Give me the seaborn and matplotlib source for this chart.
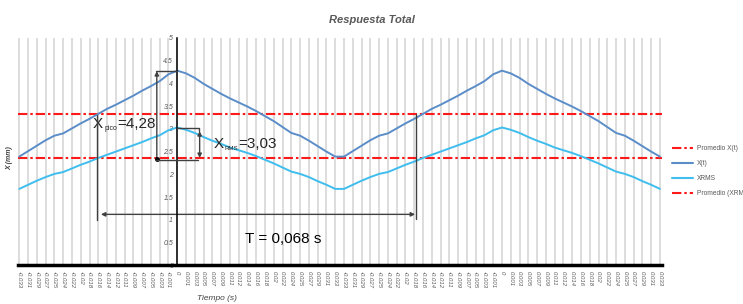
import numpy as np
import pandas as pd
import matplotlib
matplotlib.use('Agg')
import matplotlib.pyplot as plt
import seaborn as sns
from matplotlib.lines import Line2D

# etiquetas del eje de tiempo (dos periodos de la respuesta)
tiempo = ['-0.033', '-0.031', '-0.029', '-0.027', '-0.025', '-0.024', '-0.022', '-0.02', '-0.018',
          '-0.016', '-0.014', '-0.012', '-0.011', '-0.009', '-0.007', '-0.005', '-0.003', '-0.001',
          '0', '0.001', '0.003', '0.005', '0.007', '0.009', '0.011', '0.012', '0.014', '0.016',
          '0.018', '0.02', '0.022', '0.024', '0.025', '0.027', '0.029', '0.031', '0.033',
          '-0.033', '-0.031', '-0.029', '-0.027', '-0.025', '-0.024', '-0.022', '-0.02', '-0.018',
          '-0.016', '-0.014', '-0.012', '-0.011', '-0.009', '-0.007', '-0.005', '-0.003', '-0.001',
          '0', '0.001', '0.003', '0.005', '0.007', '0.009', '0.011', '0.012', '0.014', '0.016',
          '0.018', '0.02', '0.022', '0.024', '0.025', '0.027', '0.029', '0.031', '0.033']

# desplazamiento X(t) en mm
x_t = [2.39, 2.51, 2.63, 2.75, 2.85, 2.90, 3.01, 3.12, 3.22, 3.33, 3.44, 3.53, 3.63, 3.73, 3.84,
       3.94, 4.05, 4.20, 4.28, 4.22, 4.12, 3.99, 3.88, 3.77, 3.67, 3.58, 3.49, 3.39, 3.28, 3.17,
       3.04, 2.91, 2.85, 2.74, 2.62, 2.50, 2.39,
       2.39, 2.51, 2.63, 2.75, 2.85, 2.90, 3.01, 3.12, 3.22, 3.33, 3.44, 3.53, 3.63, 3.73, 3.84,
       3.94, 4.05, 4.20, 4.28, 4.22, 4.12, 3.99, 3.88, 3.77, 3.67, 3.58, 3.49, 3.39, 3.28, 3.17,
       3.04, 2.91, 2.85, 2.74, 2.62, 2.50, 2.39]

# valor RMS
x_rms = [1.68, 1.77, 1.86, 1.94, 2.01, 2.05, 2.13, 2.21, 2.28, 2.36, 2.43, 2.50, 2.57, 2.64, 2.71,
         2.79, 2.86, 2.97, 3.03, 2.98, 2.91, 2.82, 2.74, 2.67, 2.59, 2.53, 2.47, 2.40, 2.32, 2.24,
         2.15, 2.06, 2.01, 1.94, 1.85, 1.77, 1.68,
         1.68, 1.77, 1.86, 1.94, 2.01, 2.05, 2.13, 2.21, 2.28, 2.36, 2.43, 2.50, 2.57, 2.64, 2.71,
         2.79, 2.86, 2.97, 3.03, 2.98, 2.91, 2.82, 2.74, 2.67, 2.59, 2.53, 2.47, 2.40, 2.32, 2.24,
         2.15, 2.06, 2.01, 1.94, 1.85, 1.77, 1.68]

prom_x = 3.32
prom_rms = 2.35

df = pd.DataFrame({'idx': np.arange(len(tiempo)), 'X(t)': x_t, 'XRMS': x_rms})

sns.set_style('white')
plt.rcParams['font.family'] = ['Liberation Sans', 'DejaVu Sans']

fig = plt.figure(figsize=(7.43, 3.04), dpi=100)
ax = fig.add_axes([0.0236, 0.1273, 0.867, 0.748])

azul = '#5B8DC9'
celeste = '#3FBDEE'
rojo = '#FF1A1A'
gris = '#404040'
punto_raya = (0, (4.5, 1.4, 1.2, 1.4))

ax.axhline(prom_x, color=rojo, lw=1.5, ls=punto_raya, zorder=2)
ax.axhline(prom_rms, color=rojo, lw=1.5, ls=punto_raya, zorder=2)
sns.lineplot(data=df, x='idx', y='X(t)', color=azul, lw=1.4, ax=ax, zorder=3)
sns.lineplot(data=df, x='idx', y='XRMS', color=celeste, lw=1.4, ax=ax, zorder=3)

# eje vertical en t = 0 (primero, porque reinicia los ticks)
for s in ['top', 'right']:
    ax.spines[s].set_visible(False)
ax.spines['left'].set_position(('data', tiempo.index('0')))
ax.spines['left'].set_color('black')
ax.spines['left'].set_linewidth(1.1)
ax.spines['left'].set_zorder(4)
ax.spines['bottom'].set_color('black')
ax.spines['bottom'].set_linewidth(2.5)

ax.set_xlim(-0.2, len(tiempo) - 0.8)
ax.set_ylim(0, 5)
ax.set_xticks(df['idx'])
ax.set_xticklabels(tiempo, rotation=270, fontsize=4.3, color='#595959', style='italic')
ax.set_yticks(np.arange(0, 5.01, 0.5))
ax.set_yticklabels(['%g' % v for v in np.arange(0, 5.01, 0.5)], fontsize=5,
                   color='#595959', style='italic')
ax.tick_params(axis='x', direction='inout', length=5, width=1.6, color='black', pad=1.5)
ax.tick_params(axis='y', direction='out', length=2, width=0.8, color='black', pad=1)
ax.set_xlabel('')
ax.set_ylabel('')

ax.set_axisbelow(True)
ax.xaxis.grid(True, color='#DADADA', lw=1.3)
ax.yaxis.grid(False)

# cotas
flecha = dict(arrowstyle='<|-|>', color=gris, lw=1, mutation_scale=6, shrinkA=0, shrinkB=0)
ax.annotate('', xy=(15.67, 4.27), xytext=(15.67, 2.33),
            arrowprops=dict(arrowstyle='-|>', color=gris, lw=1, mutation_scale=6, shrinkA=0, shrinkB=0))
ax.plot([15.67], [2.33], 'o', color='black', ms=2.5, zorder=5)
ax.plot([15.6, 18], [4.28, 4.28], color=gris, lw=1, zorder=5)
ax.plot([15.6, 20.4], [2.31, 2.31], color=gris, lw=1, zorder=5)
ax.plot([18, 20.5, 20.5], [3.01, 3.01, 2.95], color=gris, lw=1, zorder=5)
ax.annotate('', xy=(20.55, 2.36), xytext=(20.55, 2.95), arrowprops=flecha)

ax.plot([8.87, 8.87], [3.31, 1.0], color=gris, lw=1, zorder=5)
ax.plot([45.2, 45.2], [3.33, 1.02], color=gris, lw=1, zorder=5)
ax.annotate('', xy=(9.3, 1.12), xytext=(45.1, 1.12), arrowprops=flecha)


def rotulo(x, y, sub, resto, tam, dx):
    # X grande, subindice pequeño y el valor
    ax.annotate('X', (x, y), fontsize=11, va='baseline')
    ax.annotate(sub, (x, y), xytext=(8.2, -1), textcoords='offset points', fontsize=tam,
                va='baseline')
    ax.annotate(resto, (x, y), xytext=(dx, 0), textcoords='offset points',
                fontsize=11, va='baseline')


rotulo(8.4, 3.01, 'pico', '=4,28', 5, 17.4)
rotulo(22.1, 2.57, 'RMS', '=3,03', 4.4, 18.2)
ax.text(25.7, 0.50, 'T = 0,068 s', fontsize=11, color='black', va='baseline')

fig.text(0.5, 1 - 20 / 304, 'Respuesta Total', ha='center', va='center', fontsize=8,
         style='italic', weight='bold', color='#595959')
fig.text(10 / 743, 1 - 158 / 304, 'X (mm)', rotation=90, ha='center', va='center', fontsize=5,
         style='italic', weight='bold', color='#404040')
fig.text(217 / 743, 1 - 298 / 304, 'Tiempo (s)', ha='center', va='center', fontsize=6,
         style='italic', color='#404040')

handles = [Line2D([], [], color=rojo, lw=1.5, ls=punto_raya),
           Line2D([], [], color=azul, lw=1.5),
           Line2D([], [], color=celeste, lw=1.5),
           Line2D([], [], color=rojo, lw=1.5, ls=punto_raya)]
labels = ['Promedio X(t)', 'X(t)', 'XRMS', 'Promedio (XRM']
fig.legend(handles, labels, loc='upper left', bbox_to_anchor=(672 / 743, 1 - 145 / 304),
           frameon=False, fontsize=4.8, labelcolor='#595959', handlelength=3.2,
           handletextpad=0.5, labelspacing=1.2, borderaxespad=0, borderpad=0)

fig.savefig('out.png', dpi=100)
